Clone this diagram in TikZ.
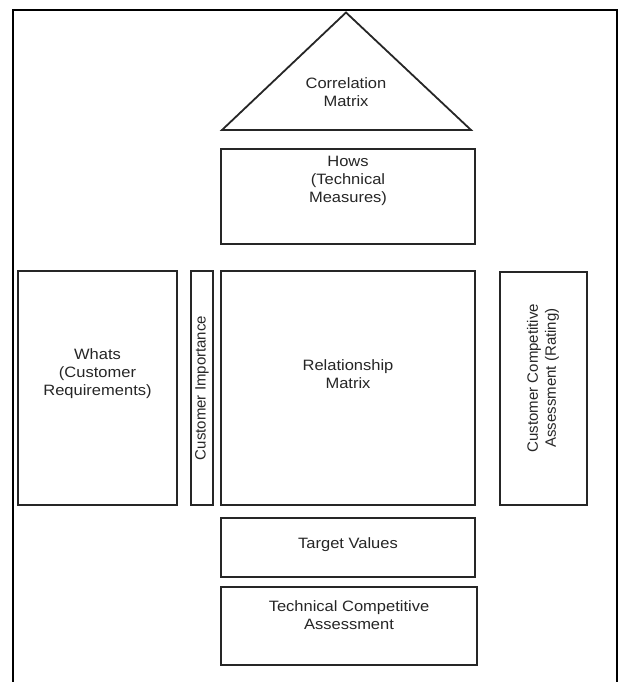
\documentclass[tikz,border=0pt]{standalone}
\usepackage{fontspec}
\setmainfont{Liberation Sans}
\newfontfamily\widefont[FakeStretch=1.1]{Liberation Sans}
\begin{document}
\begin{tikzpicture}[x=1pt,y=-1pt,
  box/.style={draw=black!85, line width=1.8pt, fill=white, inner sep=0pt},
  lbl/.style={font=\widefont\fontsize{15}{18}\selectfont, align=center, text=black!85, inner sep=0pt},
  vlbl/.style={font=\fontsize{15}{18}\selectfont, align=center, text=black!85, inner sep=0pt, rotate=90},
  frame/.style={draw=black, line width=1.5pt}]
\useasboundingbox (0,0) rectangle (620,682);
% outer frame (open at the bottom)
\coordinate (fbl) at (13,682);
\coordinate (ftl) at (13,10);
\coordinate (ftr) at (617,10);
\coordinate (fbr) at (617,682);
\draw[frame] (fbl) -- (ftl) -- (ftr) -- (fbr);
% correlation matrix (roof)
\coordinate (apex) at (346,12.5);
\coordinate (bl) at (222,130);
\coordinate (br) at (471,130);
\draw[box, line join=miter] (apex) -- (br) -- (bl) -- cycle;
\node[lbl] (corr) at (346,92) {Correlation\\Matrix};
% boxes
\node[box, minimum width=254pt, minimum height=95pt] (hows) at (348,196.5) {};
\node[lbl] (howst) at (348,181) {Hows\\(Technical\\Measures)};
\node[box, minimum width=159pt, minimum height=234pt] (whats) at (97.5,388) {};
\node[lbl] (whatst) at (97.5,374) {Whats\\(Customer\\Requirements)};
\node[box, minimum width=22pt, minimum height=234pt] (imp) at (202,388) {};
\node[vlbl] (impt) at (202,388) {Customer Importance};
\node[box, minimum width=254pt, minimum height=234pt] (rel) at (348,388) {};
\node[lbl] (relt) at (348,374) {Relationship\\Matrix};
\node[box, minimum width=87pt, minimum height=233pt] (cca) at (543.5,388.5) {};
\node[vlbl] (ccat) at (543,378) {Customer Competitive\\Assessment (Rating)};
\node[box, minimum width=254pt, minimum height=59pt] (target) at (348,547.5) {};
\node[lbl] (targett) at (348,545) {Target Values};
\node[box, minimum width=256pt, minimum height=78pt] (tca) at (349,626) {};
\node[lbl] (tcat) at (349,615) {Technical Competitive\\Assessment};
\end{tikzpicture}
\end{document}
